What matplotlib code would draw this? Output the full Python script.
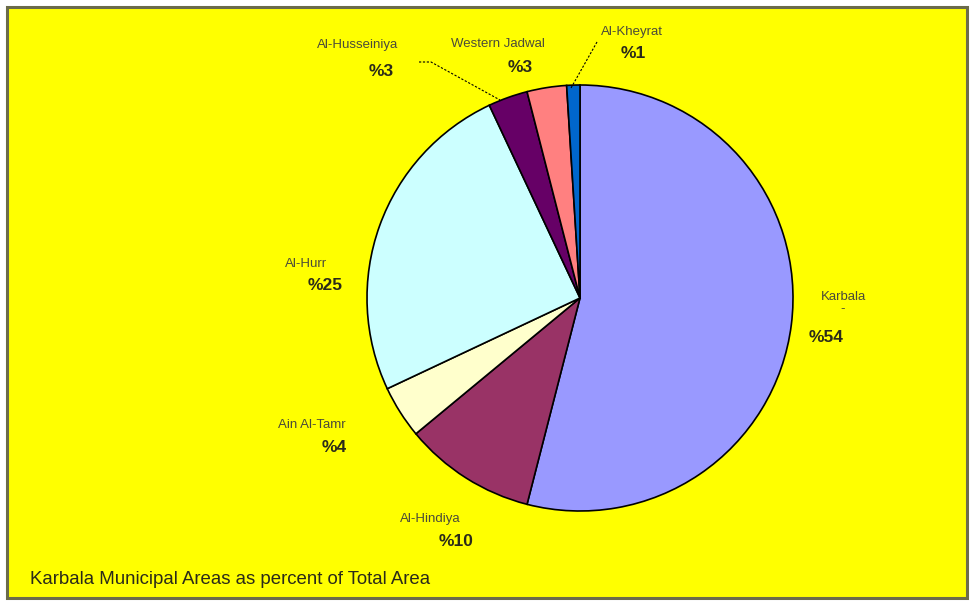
"""Karbala municipal areas as percent of total area - Excel-style pie."""

import matplotlib
matplotlib.use("Agg")
import matplotlib.pyplot as plt
import matplotlib.patches as mpatches

W, H = 973, 605

areas = ["Karbala", "Al-Hindiya", "Ain Al-Tamr", "Al-Hurr",
         "Al-Husseiniya", "Western Jadwal", "Al-Kheyrat"]
name_labels = ["Karbala\n-", "Al-Hindiya", "Ain Al-Tamr", "Al-Hurr",
               "Al-Husseiniya", "Western Jadwal", "Al-Kheyrat"]
percent = [54, 10, 4, 25, 3, 3, 1]
colors = ["#9999FF", "#993366", "#FFFFCC", "#CCFFFF",
          "#660066", "#FF8080", "#0066CC"]

# label anchor (pixel coords, y from top): name centre, percent centre
label_pos = {
    "Karbala":        ((843, 303), (826, 337)),
    "Al-Hindiya":     ((430, 519), (456, 542)),
    "Ain Al-Tamr":    ((312, 425), (334, 447)),
    "Al-Hurr":        ((306, 264), (325, 286)),
    "Al-Husseiniya":  ((358, 45), (381, 72)),
    "Western Jadwal": ((498, 44), (520, 68)),
    "Al-Kheyrat":     ((632, 32), (633, 53)),
}

fig = plt.figure(figsize=(W / 100, H / 100), dpi=100)
fig.patch.set_facecolor("white")
ax = fig.add_axes([0, 0, 1, 1])
ax.set_xlim(0, W); ax.set_ylim(0, H)
ax.set_aspect("equal")
ax.axis("off")

def py(y): return H - y

# chart area
ax.add_patch(mpatches.Rectangle((7, py(598)), 960, 591, facecolor="#FFFF00",
                                edgecolor="#6b6b4a", linewidth=2.2, zorder=0))

wedges, _ = ax.pie(percent, colors=colors, startangle=90, counterclock=False,
                   center=(580, py(298)), radius=213, frame=True,
                   wedgeprops=dict(edgecolor="black", linewidth=1.2))
ax.set_xlim(0, W); ax.set_ylim(0, H); ax.axis("off")
for w in wedges:
    w.set_zorder(2)

for area, nm, p in zip(areas, name_labels, percent):
    (nx, ny), (px_, pyy) = label_pos[area]
    ax.text(nx, py(ny), nm, ha="center", va="center", fontsize=9.5,
            color="#4a4a3a", family="Liberation Sans", linespacing=1.1, zorder=3)
    ax.text(px_, py(pyy), f"%{p}", ha="center", va="center", fontsize=12.5,
            fontweight="bold", color="#2a2a1a", family="Liberation Sans", zorder=3)

# leader lines
ax.plot([419, 431, 500], [py(62), py(62), py(100)], color="black", lw=0.8,
        ls=(0, (2, 1.5)), zorder=3)
ax.plot([597, 571], [py(42), py(88)], color="black", lw=0.8,
        ls=(0, (2, 1.5)), zorder=3)

ax.text(30, py(580), "Karbala Municipal Areas as percent of Total Area",
        ha="left", va="center", fontsize=13.4, color="#2a2a1a",
        family="Liberation Sans", zorder=3)

fig.savefig("out.png", dpi=100)
